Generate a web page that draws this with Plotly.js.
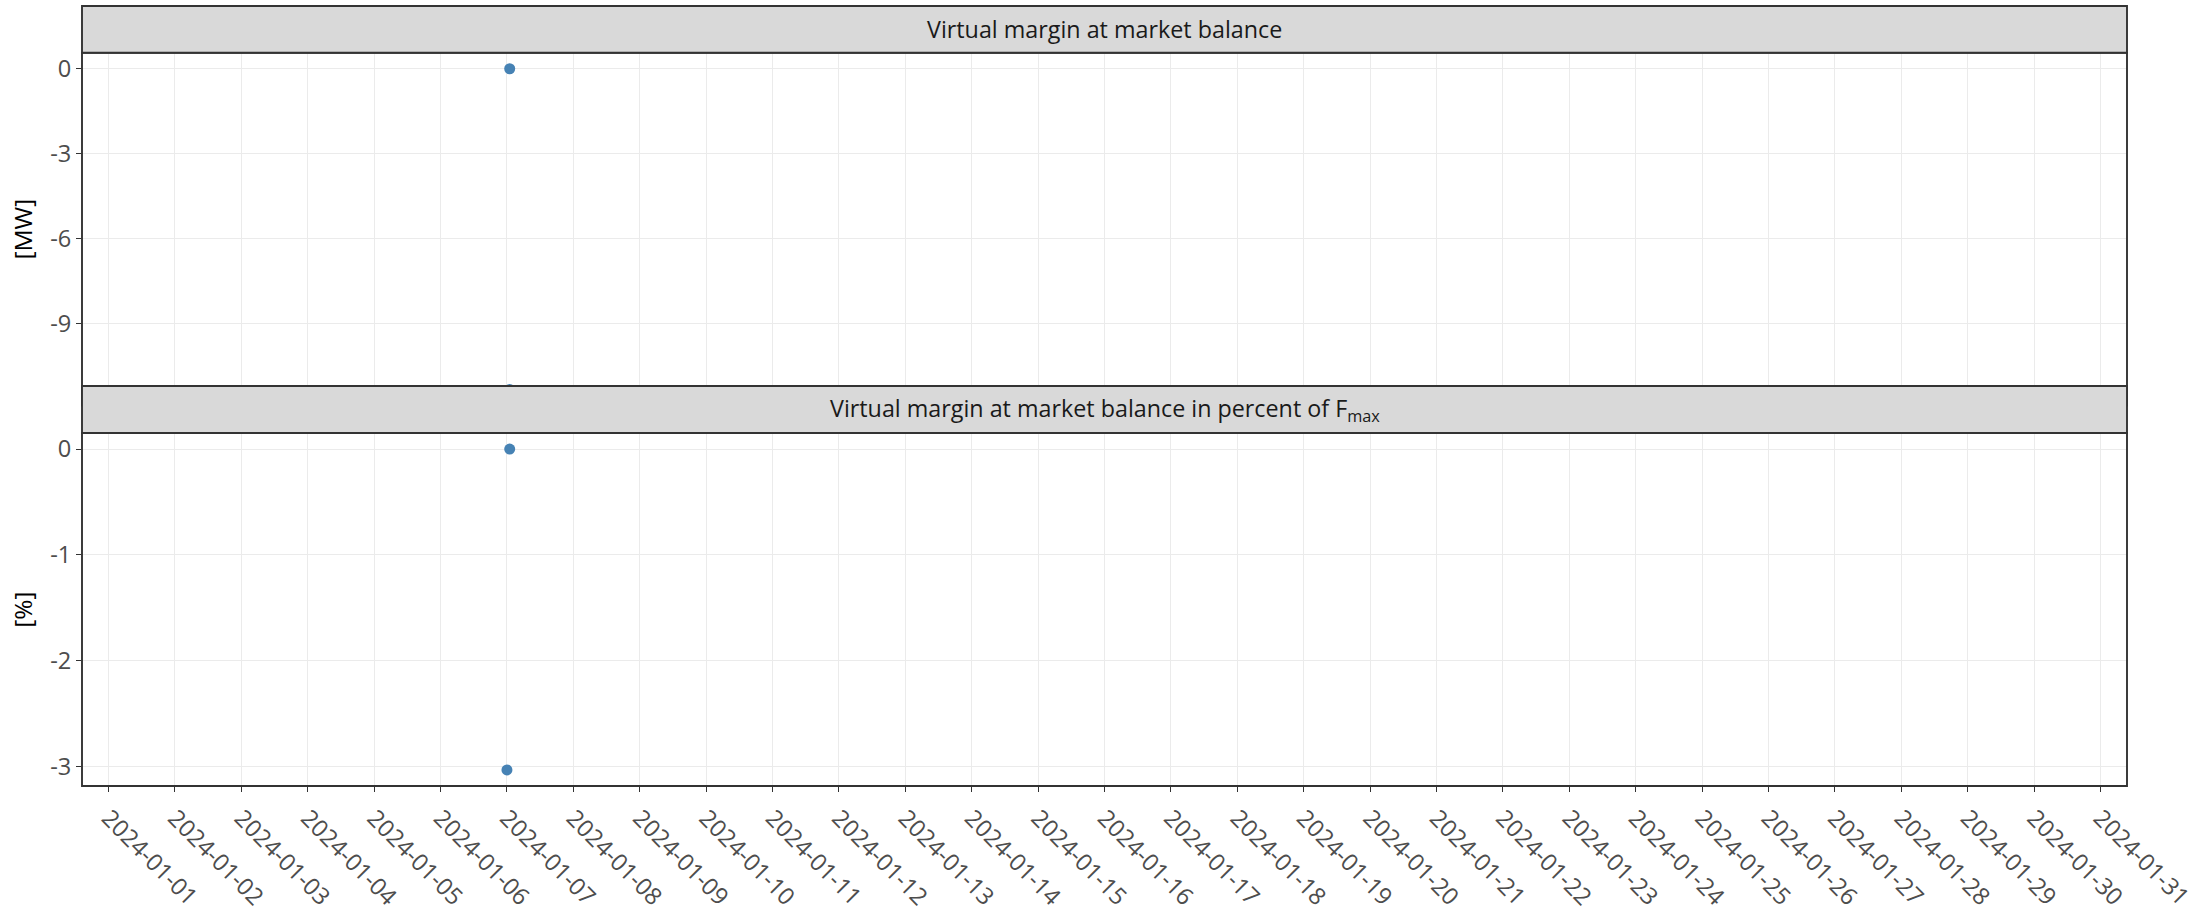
<!DOCTYPE html>
<html>
<head>
<meta charset="utf-8">
<script src="https://cdn.plot.ly/plotly-3.0.1.min.js"></script>
<style>
    html, body { margin: 0; padding: 0; background: white; }
    #chart { width: 2212px; height: 910px; }
</style>
</head>
<body>
<div id="chart"></div>
<script>
// ===== Data =====
const xLimits = ['2024-01-01', '2024-01-31'];
const xPadDays = 0.4;

const marginTimes = ['2024-01-07 01:00', '2024-01-07 01:00'];
const marginValues = [0, -11.34];

const percentTimes = ['2024-01-07 01:00', '2024-01-07 00:00'];
const percentValues = [0, -3.03];

const panelTitles = [
    'Virtual margin at market balance',
    'Virtual margin at market balance in percent of F<sub>max</sub>'
];
const yTitles = ['[MW]', '[%]'];
const yTickSteps = [3, 1];

// ===== Helpers =====
const DAY_MS = 86400000;

function shiftDate(str, days) {
    const ms = Date.parse(str + 'T00:00:00Z') + days * DAY_MS;
    return new Date(ms).toISOString().replace('T', ' ').replace('Z', '');
}

// ggplot style 5% expansion of the data range
function expandRange(values) {
    const lo = Math.min(...values);
    const hi = Math.max(...values);
    const pad = (hi - lo) * 0.05;
    return [lo - pad, hi + pad];
}

// ticks on multiples of step inside the range, labelled with a plain hyphen
function stepTicks(range, step) {
    const vals = [];
    for (let v = Math.ceil(range[0] / step) * step; v <= range[1]; v += step) {
        vals.push(Math.round(v * 1000) / 1000);
    }
    return { tickvals: vals, ticktext: vals.map(v => String(v)) };
}

// ===== Panel geometry (paper fractions) =====
const bottomDomain = [0, 0.4526];
const topDomain = [0.4878, 0.9401];
const bottomStrip = [0.4526, 0.5128];
const topStrip = [0.9401, 1.0];

const greyLine = '#333333';
const gridGrey = '#EBEBEB';
const tickText = '#4D4D4D';
const tickSize = 23.6;

function createChart() {
    const topTrace = {
        x: marginTimes,
        y: marginValues,
        xaxis: 'x2',
        yaxis: 'y2',
        type: 'scatter',
        mode: 'markers',
        marker: { color: '#4682B4', size: 11 },
        showlegend: false,
        hoverinfo: 'x+y'
    };

    const bottomTrace = {
        x: percentTimes,
        y: percentValues,
        xaxis: 'x',
        yaxis: 'y',
        type: 'scatter',
        mode: 'markers',
        marker: { color: '#4682B4', size: 11 },
        showlegend: false,
        hoverinfo: 'x+y'
    };

    const xRange = [shiftDate(xLimits[0], -xPadDays), shiftDate(xLimits[1], xPadDays)];
    const topRange = expandRange(marginValues);
    const bottomRange = expandRange(percentValues);

    const yAxisCommon = {
        ticks: 'outside',
        ticklen: 5,
        tickwidth: 1.1,
        tickcolor: greyLine,
        tickfont: { size: tickSize, color: tickText },
        tickmode: 'array',
        showgrid: true,
        gridcolor: gridGrey,
        gridwidth: 1.1,
        zeroline: false,
        showline: false,
        automargin: false
    };

    const layout = {
        width: 2212,
        height: 910,
        margin: { l: 82, r: 85, t: 6, b: 124 },
        paper_bgcolor: 'white',
        plot_bgcolor: 'white',
        font: { family: '"Open Sans", verdana, arial, sans-serif', color: '#1A1A1A' },
        showlegend: false,
        xaxis: {
            domain: [0, 1],
            anchor: 'y',
            type: 'date',
            range: xRange,
            tickmode: 'linear',
            tick0: xLimits[0],
            dtick: DAY_MS,
            tickformat: '%Y-%m-%d',
            tickangle: 45,
            ticks: 'outside',
            ticklen: 5,
            tickwidth: 1.1,
            tickcolor: greyLine,
            tickfont: { size: tickSize, color: tickText },
            ticklabelstandoff: 3,
            showgrid: true,
            gridcolor: gridGrey,
            gridwidth: 1.1,
            zeroline: false,
            showline: false,
            automargin: false
        },
        xaxis2: {
            domain: [0, 1],
            anchor: 'y2',
            type: 'date',
            matches: 'x',
            range: xRange,
            tickmode: 'linear',
            tick0: xLimits[0],
            dtick: DAY_MS,
            showticklabels: false,
            ticks: '',
            showgrid: true,
            gridcolor: gridGrey,
            gridwidth: 1.1,
            zeroline: false,
            showline: false
        },
        yaxis: Object.assign({}, yAxisCommon, stepTicks(bottomRange, yTickSteps[1]), {
            domain: bottomDomain,
            anchor: 'x',
            range: bottomRange,
            title: { text: yTitles[1], font: { size: 24.5, color: '#000000' }, standoff: 10 }
        }),
        yaxis2: Object.assign({}, yAxisCommon, stepTicks(topRange, yTickSteps[0]), {
            domain: topDomain,
            anchor: 'x2',
            range: topRange,
            title: { text: yTitles[0], font: { size: 24.5, color: '#000000' }, standoff: 10 }
        }),
        shapes: [
            // panel borders
            { type: 'rect', xref: 'paper', yref: 'paper', x0: 0, x1: 1, y0: topDomain[0], y1: topDomain[1],
              fillcolor: 'rgba(0,0,0,0)', line: { color: greyLine, width: 1.9 }, layer: 'above' },
            { type: 'rect', xref: 'paper', yref: 'paper', x0: 0, x1: 1, y0: bottomDomain[0], y1: bottomDomain[1],
              fillcolor: 'rgba(0,0,0,0)', line: { color: greyLine, width: 1.9 }, layer: 'above' },
            // strips
            { type: 'rect', xref: 'paper', yref: 'paper', x0: 0, x1: 1, y0: topStrip[0], y1: topStrip[1],
              fillcolor: '#D9D9D9', line: { color: greyLine, width: 1.9 }, layer: 'above' },
            { type: 'rect', xref: 'paper', yref: 'paper', x0: 0, x1: 1, y0: bottomStrip[0], y1: bottomStrip[1],
              fillcolor: '#D9D9D9', line: { color: greyLine, width: 1.9 }, layer: 'above' }
        ],
        annotations: [
            { text: panelTitles[0], xref: 'paper', yref: 'paper', x: 0.5, y: (topStrip[0] + topStrip[1]) / 2,
              xanchor: 'center', yanchor: 'middle', showarrow: false,
              font: { size: 23.3, color: '#1A1A1A' } },
            { text: panelTitles[1], xref: 'paper', yref: 'paper', x: 0.5, y: (bottomStrip[0] + bottomStrip[1]) / 2,
              xanchor: 'center', yanchor: 'middle', showarrow: false,
              font: { size: 23.3, color: '#1A1A1A' } }
        ]
    };

    const config = {
        responsive: false,
        displayModeBar: false
    };

    Plotly.newPlot('chart', [topTrace, bottomTrace], layout, config);
}

document.addEventListener('DOMContentLoaded', createChart);
</script>
</body>
</html>
